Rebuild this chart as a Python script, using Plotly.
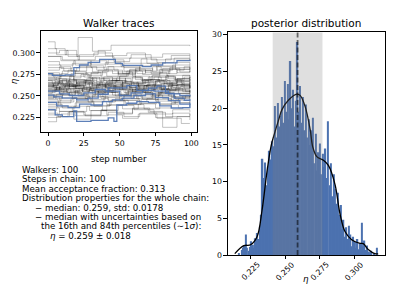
import plotly.graph_objects as go

# ---------------- data ----------------
# grey walker traces: (step, value) change points (step-like chains)
grey_walkers = [
    [(0,0.262),(7,0.265),(15,0.261),(26,0.268),(34,0.264),(45,0.270),(58,0.266),(70,0.272),(83,0.268),(99,0.270)],
    [(0,0.258),(5,0.255),(14,0.259),(22,0.252),(35,0.256),(47,0.250),(60,0.254),(72,0.249),(88,0.253),(99,0.251)],
    [(0,0.270),(9,0.274),(18,0.269),(30,0.277),(41,0.273),(55,0.279),(66,0.275),(78,0.281),(90,0.277),(99,0.279)],
    [(0,0.248),(6,0.252),(17,0.247),(28,0.254),(38,0.249),(50,0.245),(63,0.250),(75,0.244),(86,0.248),(99,0.246)],
    [(0,0.265),(11,0.261),(20,0.266),(31,0.260),(44,0.263),(52,0.258),(67,0.262),(79,0.257),(92,0.261),(99,0.259)],
    [(0,0.280),(8,0.284),(16,0.279),(27,0.285),(39,0.281),(49,0.276),(61,0.282),(73,0.278),(85,0.283),(99,0.280)],
    [(0,0.240),(10,0.236),(19,0.242),(32,0.238),(43,0.244),(54,0.240),(65,0.246),(77,0.241),(89,0.245),(99,0.243)],
    [(0,0.313),(5,0.305),(12,0.298),(21,0.292),(33,0.296),(46,0.290),(57,0.294),(69,0.288),(82,0.293),(99,0.291)],
    [(0,0.300),(8,0.303),(14,0.296),(21,0.318),(31,0.302),(40,0.297),(55,0.300),(68,0.295),(80,0.299),(99,0.297)],
    [(0,0.296),(10,0.292),(22,0.298),(35,0.303),(44,0.309),(99,0.308)],
    [(0,0.230),(7,0.226),(15,0.232),(25,0.228),(37,0.234),(48,0.230),(59,0.236),(71,0.232),(80,0.2135),(90,0.226),(99,0.229)],
    [(0,0.225),(9,0.229),(18,0.223),(30,0.227),(42,0.231),(53,0.226),(64,0.230),(76,0.224),(93,0.218),(99,0.218)],
    [(0,0.255),(6,0.259),(13,0.254),(24,0.260),(36,0.256),(46,0.262),(57,0.257),(69,0.263),(81,0.258),(99,0.262)],
    [(0,0.262),(8,0.258),(19,0.264),(29,0.259),(40,0.265),(51,0.260),(62,0.266),(74,0.261),(87,0.267),(99,0.264)],
    [(0,0.252),(11,0.256),(21,0.250),(33,0.255),(45,0.251),(56,0.257),(68,0.252),(79,0.258),(91,0.253),(99,0.256)],
    [(0,0.274),(7,0.270),(16,0.276),(28,0.271),(39,0.268),(50,0.273),(61,0.269),(73,0.274),(84,0.270),(99,0.272)],
    [(0,0.244),(9,0.248),(20,0.243),(31,0.249),(42,0.245),(53,0.250),(66,0.246),(77,0.251),(88,0.247),(99,0.249)],
    [(0,0.268),(5,0.263),(15,0.269),(26,0.264),(37,0.270),(48,0.266),(60,0.262),(71,0.267),(83,0.263),(99,0.266)],
    [(0,0.258),(12,0.262),(23,0.257),(34,0.263),(46,0.258),(58,0.264),(70,0.259),(81,0.265),(94,0.260),(99,0.262)],
    [(0,0.236),(8,0.232),(18,0.238),(29,0.233),(41,0.239),(52,0.235),(63,0.241),(75,0.236),(86,0.242),(99,0.238)],
    [(0,0.286),(9,0.282),(17,0.288),(30,0.283),(40,0.289),(51,0.284),(64,0.279),(76,0.285),(89,0.281),(99,0.283)],
    [(0,0.261),(6,0.257),(14,0.263),(25,0.258),(35,0.254),(47,0.259),(59,0.255),(70,0.260),(82,0.256),(99,0.258)],
    [(0,0.250),(10,0.254),(21,0.259),(32,0.255),(43,0.261),(55,0.256),(67,0.262),(78,0.257),(90,0.263),(99,0.260)],
    [(0,0.277),(8,0.273),(19,0.278),(27,0.274),(38,0.279),(49,0.275),(61,0.280),(72,0.276),(85,0.281),(99,0.278)],
    [(0,0.246),(7,0.242),(16,0.247),(28,0.243),(39,0.248),(50,0.252),(62,0.247),(73,0.253),(86,0.249),(99,0.251)],
    [(0,0.265),(10,0.269),(20,0.264),(31,0.270),(43,0.265),(54,0.271),(66,0.266),(77,0.272),(89,0.267),(99,0.269)],
    [(0,0.233),(6,0.237),(17,0.232),(27,0.238),(38,0.233),(49,0.239),(60,0.234),(74,0.229),(87,0.234),(99,0.231)],
    [(0,0.290),(8,0.286),(18,0.291),(30,0.287),(42,0.292),(53,0.288),(65,0.293),(76,0.289),(88,0.294),(99,0.291)],
    [(0,0.256),(9,0.251),(19,0.257),(31,0.252),(42,0.258),(54,0.253),(65,0.248),(77,0.254),(88,0.249),(99,0.252)],
    [(0,0.272),(6,0.268),(15,0.273),(26,0.277),(37,0.272),(49,0.278),(59,0.273),(71,0.269),(83,0.274),(99,0.271)],
    [(0,0.260),(7,0.264),(18,0.259),(28,0.265),(40,0.260),(52,0.266),(63,0.261),(75,0.267),(86,0.262),(99,0.265)],
    [(0,0.242),(9,0.238),(20,0.244),(32,0.239),(44,0.245),(56,0.240),(67,0.235),(78,0.240),(91,0.236),(99,0.239)],
    [(0,0.283),(11,0.279),(22,0.284),(34,0.280),(45,0.276),(57,0.281),(68,0.277),(80,0.282),(92,0.278),(99,0.280)],
    [(0,0.254),(5,0.258),(16,0.253),(27,0.249),(39,0.254),(50,0.250),(61,0.255),(73,0.251),(85,0.256),(99,0.253)],
    [(0,0.228),(8,0.232),(19,0.227),(30,0.233),(41,0.228),(52,0.224),(63,0.229),(75,0.225),(87,0.230),(99,0.227)],
    [(0,0.266),(9,0.262),(21,0.267),(32,0.263),(44,0.268),(55,0.264),(67,0.269),(78,0.265),(90,0.270),(99,0.267)],
    [(0,0.305),(6,0.298),(13,0.303),(20,0.296),(32,0.300),(45,0.294),(58,0.298),(72,0.292),(86,0.297),(99,0.294)],
    [(0,0.249),(8,0.245),(17,0.250),(29,0.246),(40,0.251),(51,0.247),(62,0.252),(74,0.258),(85,0.253),(99,0.256)],
    [(0,0.263),(7,0.267),(16,0.262),(27,0.256),(38,0.261),(50,0.257),(61,0.262),(72,0.258),(84,0.263),(99,0.259)],
    [(0,0.220),(6,0.226),(14,0.231),(26,0.227),(37,0.233),(48,0.229),(59,0.235),(70,0.231),(82,0.226),(99,0.222)],
    [(0,0.275),(10,0.279),(20,0.283),(31,0.278),(42,0.284),(53,0.279),(64,0.285),(76,0.280),(87,0.286),(99,0.283)],
    [(0,0.257),(8,0.261),(18,0.266),(29,0.261),(41,0.267),(52,0.262),(63,0.257),(74,0.262),(86,0.258),(99,0.263)],
    [(0,0.238),(7,0.243),(18,0.248),(30,0.244),(41,0.240),(53,0.245),(64,0.241),(76,0.246),(88,0.242),(99,0.244)],
    [(0,0.296),(9,0.291),(19,0.286),(30,0.291),(41,0.287),(53,0.283),(65,0.288),(77,0.284),(89,0.289),(99,0.286)],
    [(0,0.269),(8,0.273),(18,0.268),(30,0.263),(42,0.268),(54,0.264),(66,0.269),(78,0.265),(90,0.270),(99,0.268)],
    [(0,0.259),(3,0.262),(6,0.257),(11,0.260),(15,0.264),(19,0.259),(24,0.255),(29,0.258),(35,0.262),(41,0.259),(47,0.263),(53,0.267),(58,0.262),(64,0.259),(69,0.263),(75,0.268),(81,0.264),(87,0.260),(93,0.264),(99,0.266)],
    [(0,0.264),(4,0.260),(9,0.256),(13,0.259),(18,0.255),(23,0.252),(28,0.256),(33,0.253),(39,0.257),(44,0.254),(49,0.251),(55,0.255),(61,0.258),(66,0.254),(72,0.257),(77,0.253),(83,0.256),(89,0.259),(94,0.255),(99,0.257)],
    [(0,0.253),(3,0.256),(8,0.260),(12,0.265),(17,0.261),(22,0.266),(27,0.270),(32,0.266),(38,0.262),(43,0.266),(48,0.271),(54,0.267),(59,0.272),(65,0.268),(70,0.264),(76,0.268),(82,0.273),(88,0.269),(93,0.265),(99,0.268)],
    [(0,0.271),(5,0.267),(10,0.263),(14,0.267),(20,0.262),(25,0.258),(30,0.262),(36,0.266),(42,0.262),(47,0.257),(52,0.261),(58,0.265),(63,0.260),(68,0.256),(74,0.260),(79,0.264),(85,0.260),(90,0.263),(95,0.259),(99,0.261)],
    [(0,0.247),(4,0.251),(9,0.255),(14,0.251),(19,0.256),(25,0.260),(30,0.256),(35,0.252),(40,0.256),(46,0.260),(51,0.264),(57,0.260),(62,0.256),(67,0.259),(73,0.263),(79,0.258),(84,0.262),(90,0.266),(95,0.262),(99,0.264)],
    [(0,0.261),(4,0.265),(8,0.270),(13,0.266),(18,0.271),(23,0.275),(29,0.271),(34,0.267),(39,0.272),(45,0.268),(50,0.273),(56,0.277),(61,0.272),(66,0.268),(72,0.273),(78,0.277),(83,0.273),(89,0.269),(94,0.274),(99,0.271)],
    [(0,0.268),(3,0.264),(8,0.268),(13,0.263),(19,0.259),(24,0.255),(29,0.259),(34,0.263),(40,0.259),(45,0.255),(51,0.251),(56,0.255),(62,0.259),(67,0.254),(73,0.250),(78,0.254),(84,0.250),(89,0.246),(94,0.250),(99,0.248)],
    [(0,0.256),(5,0.260),(9,0.264),(14,0.268),(20,0.264),(25,0.268),(31,0.272),(36,0.268),(41,0.264),(47,0.268),(52,0.264),(57,0.260),(63,0.264),(68,0.268),(74,0.272),(79,0.268),(85,0.264),(90,0.268),(95,0.272),(99,0.269)],
    [(0,0.263),(4,0.259),(10,0.262),(15,0.258),(20,0.262),(26,0.266),(31,0.262),(37,0.258),(42,0.262),(48,0.258),(53,0.254),(59,0.258),(64,0.262),(69,0.258),(75,0.254),(80,0.258),(86,0.262),(91,0.258),(96,0.255),(99,0.257)],
    [(0,0.251),(5,0.247),(10,0.251),(15,0.255),(21,0.251),(26,0.247),(31,0.251),(37,0.247),(42,0.243),(47,0.247),(53,0.251),(58,0.247),(64,0.243),(69,0.247),(75,0.251),(80,0.247),(86,0.243),(91,0.247),(96,0.251),(99,0.249)],
    [(0,0.276),(4,0.272),(9,0.276),(14,0.280),(19,0.276),(25,0.272),(30,0.276),(35,0.280),(41,0.284),(46,0.280),(52,0.276),(57,0.280),(62,0.276),(68,0.280),(73,0.284),(79,0.280),(84,0.276),(90,0.280),(95,0.284),(99,0.281)],
]

# highlighted walkers (blue)
blue_walkers = [
    [(0,0.276),(3,0.274),(12,0.2745),(18,0.283),(22,0.286),(28,0.289),(36,0.2925),(47,0.288),(52,0.2855),(66,0.284),(72,0.286),(80,0.2885),(90,0.291),(99,0.292)],
    [(0,0.251),(4,0.249),(10,0.2475),(20,0.2455),(28,0.2475),(35,0.252),(42,0.2595),(55,0.262),(62,0.2565),(70,0.259),(76,0.2615),(82,0.253),(88,0.2475),(95,0.245),(99,0.2465)],
    [(0,0.2425),(6,0.2385),(14,0.2365),(22,0.2405),(30,0.2395),(38,0.2435),(45,0.2455),(52,0.2475),(60,0.2505),(68,0.2525),(75,0.248),(84,0.2445),(92,0.2405),(99,0.2425)],
    [(0,0.234),(5,0.228),(10,0.226),(18,0.2325),(20,0.2205),(30,0.2215),(42,0.2245),(46,0.2205),(48,0.2395),(55,0.2415),(62,0.2435),(70,0.2425),(78,0.2385),(86,0.236),(94,0.2365),(99,0.2405)],
    [(0,0.2555),(8,0.2525),(15,0.2505),(25,0.2535),(33,0.2575),(40,0.2555),(50,0.2505),(58,0.2535),(66,0.2565),(74,0.2555),(84,0.2525),(92,0.2505),(99,0.2515)],
]

# posterior histogram (density), 100 bins
bin_start = 0.2160
bin_width = 0.00101
hist_heights = [
    0.3, 0.0, 0.7, 1.0, 1.3, 2.8, 1.0, 0.6, 1.1, 1.9,
    1.4, 1.0, 2.3, 3.0, 2.2, 4.0, 5.5, 13.1, 10.5, 12.6,
    9.5, 12.0, 14.2, 13.0, 15.5, 14.8, 20.3, 16.0, 20.7, 17.5,
    19.0, 21.5, 18.0, 23.7, 19.5, 23.3, 18.5, 26.4, 20.0, 22.5,
    17.5, 21.0, 29.0, 19.5, 23.0, 18.0, 21.5, 17.0, 20.5, 16.0,
    18.5, 15.0, 17.0, 18.7, 12.5, 16.5, 11.5, 14.0, 15.2, 11.0,
    13.8, 12.0, 14.5, 10.5, 18.2, 9.5, 12.5, 8.0, 11.0, 9.0,
    7.0, 8.5, 5.5, 6.8, 3.5, 4.8, 2.5, 3.8, 2.2, 4.0,
    2.8, 1.2, 2.5, 1.8, 1.0, 2.2, 0.8, 1.5, 4.4, 1.2,
    2.0, 0.7, 1.3, 0.5, 0.2, 0.6, 0.0, 0.3, 0.0, 1.0,
]

# KDE curve
kde_x = [0.2136, 0.2201, 0.2250, 0.2297, 0.2333, 0.2369, 0.2399, 0.2424, 0.2453, 0.2477,
         0.2525, 0.2585, 0.2610, 0.2645, 0.2681, 0.2700, 0.2729, 0.2777, 0.2813, 0.2861,
         0.2897, 0.2933, 0.2981, 0.3041, 0.3065, 0.3101, 0.3149, 0.3173]
kde_y = [0.2, 1.28, 1.4, 2.5, 6.1, 11.4, 14.9, 16.6, 18.4, 19.8,
         21.1, 21.9, 21.7, 20.2, 17.1, 14.7, 13.4, 12.9, 12.2, 9.6,
         5.6, 3.2, 2.1, 1.6, 1.55, 0.76, 0.2, 0.17]

median = 0.259
sigma = 0.018

left_yticks = [0.225, 0.25, 0.275, 0.3]
left_yticklabels = ["0.225", "0.250", "0.275", "0.300"]
left_xticks = [0, 25, 50, 75, 100]
right_xticks = [0.225, 0.25, 0.275, 0.3]
right_xticklabels = ["0.225", "0.250", "0.275", "0.300"]
right_yticks = [0, 5, 10, 15, 20, 25, 30]

info_lines = [
    "Walkers: 100",
    "Steps in chain: 100",
    "Mean acceptance fraction: 0.313",
    "Distribution properties for the whole chain:",
    "− median: 0.259, std: 0.0178",
    "− median with uncertainties based on",
    "the 16th and 84th percentiles (∼1<i>σ</i>):",
    "<i>η</i> = 0.259 ± 0.018",
]
info_indent = [0, 0, 0, 0, 12.5, 12.5, 18.5, 27.5]

# ---------------- figure ----------------
# page body has an 8px default margin: the figure is placed at (8, 8)
OX, OY = 8, 8
W, H = 407 - OX, 305 - OY
FONT = "DejaVu Sans"
BLUE = "#4c72b0"


def px(x):
    return (x - OX) / W


def py(y):
    return 1 - (y - OY) / H


fig = go.Figure()

for w in grey_walkers:
    fig.add_trace(go.Scatter(x=[p[0] for p in w], y=[p[1] for p in w], mode="lines",
                             line=dict(color="rgba(0,0,0,0.24)", width=1, shape="hv"),
                             xaxis="x", yaxis="y", showlegend=False, hoverinfo="skip"))
for w in blue_walkers:
    fig.add_trace(go.Scatter(x=[p[0] for p in w], y=[p[1] for p in w], mode="lines",
                             line=dict(color="rgba(76,114,176,0.9)", width=1.3, shape="hv"),
                             xaxis="x", yaxis="y", showlegend=False, hoverinfo="skip"))

centers = [bin_start + (i + 0.5) * bin_width for i in range(len(hist_heights))]
fig.add_trace(go.Bar(x=centers, y=hist_heights, width=bin_width, marker=dict(color=BLUE, line=dict(width=0)),
                     xaxis="x2", yaxis="y2", showlegend=False))
fig.add_trace(go.Scatter(x=kde_x, y=kde_y, mode="lines", line=dict(color="black", width=1.3, shape="spline"),
                         xaxis="x2", yaxis="y2", showlegend=False))

TICKFONT = dict(family=FONT, size=7.8, color="black")
axis_common = dict(showline=True, linecolor="black", linewidth=0.8, mirror=True, ticks="outside",
                   ticklen=3.5, tickwidth=0.8, tickcolor="black", showgrid=False, zeroline=False,
                   tickfont=TICKFONT)

fig.update_layout(
    width=W, height=H, autosize=False,
    margin=dict(l=0, r=0, t=0, b=0),
    paper_bgcolor="white", plot_bgcolor="white",
    xaxis=dict(domain=[px(41), px(198)], range=[-5, 104], tickvals=left_xticks, anchor="y", **axis_common),
    yaxis=dict(domain=[py(133), py(30)], range=[0.208, 0.325], tickvals=left_yticks,
               ticktext=left_yticklabels, anchor="x", **axis_common),
    xaxis2=dict(domain=[px(229), px(387)], range=[0.2086, 0.3223], tickvals=right_xticks,
                showticklabels=False, anchor="y2", **axis_common),
    yaxis2=dict(domain=[py(259), py(31)], range=[0, 30.3], tickvals=right_yticks, anchor="x2", **axis_common),
    shapes=[
        dict(type="rect", xref="x2", yref="y2 domain", x0=median - sigma, x1=median + sigma, y0=0, y1=1,
             fillcolor="rgba(128,128,128,0.25)", line=dict(width=0), layer="above"),
        dict(type="line", xref="x2", yref="y2 domain", x0=median, x1=median, y0=0, y1=1,
             line=dict(color="rgba(0,0,0,0.55)", width=1.8, dash="5px,2.5px"), layer="above"),
    ],
)

ann = []
ann.append(dict(text="Walker traces", x=px(119.5), y=py(21), xref="paper", yref="paper", showarrow=False,
                font=dict(family=FONT, size=10.5, color="black"), xanchor="center", yanchor="middle"))
ann.append(dict(text="posterior distribution", x=px(308), y=py(21), xref="paper", yref="paper", showarrow=False,
                font=dict(family=FONT, size=10.5, color="black"), xanchor="center", yanchor="middle"))
ann.append(dict(text="step number", x=px(119.5), y=py(160.5), xref="paper", yref="paper", showarrow=False,
                font=dict(family=FONT, size=8.7, color="black"), xanchor="center", yanchor="middle"))
ann.append(dict(text="<i>η</i>", x=px(14), y=py(81), xref="paper", yref="paper", showarrow=False, textangle=-90,
                borderpad=0, font=dict(family=FONT, size=8.7, color="black"), xanchor="center", yanchor="middle"))
ann.append(dict(text="<i>η</i>", x=px(307), y=py(284), xref="paper", yref="paper", showarrow=False,
                font=dict(family=FONT, size=8.7, color="black"), xanchor="center", yanchor="middle"))
for v, t in zip(right_xticks, right_xticklabels):
    ann.append(dict(text=t, x=v, xref="x2", y=py(276), yref="paper", showarrow=False, textangle=-45,
                    font=TICKFONT, xanchor="center", yanchor="middle"))
for i, (line, ind) in enumerate(zip(info_lines, info_indent)):
    ann.append(dict(text=line, x=px(20.5 + ind), y=py(171.5 + i * 9.7), xref="paper", yref="paper",
                    showarrow=False, font=dict(family=FONT, size=8.7, color="black"),
                    xanchor="left", yanchor="middle"))
fig.update_layout(annotations=ann)

fig.write_html("out.html")
